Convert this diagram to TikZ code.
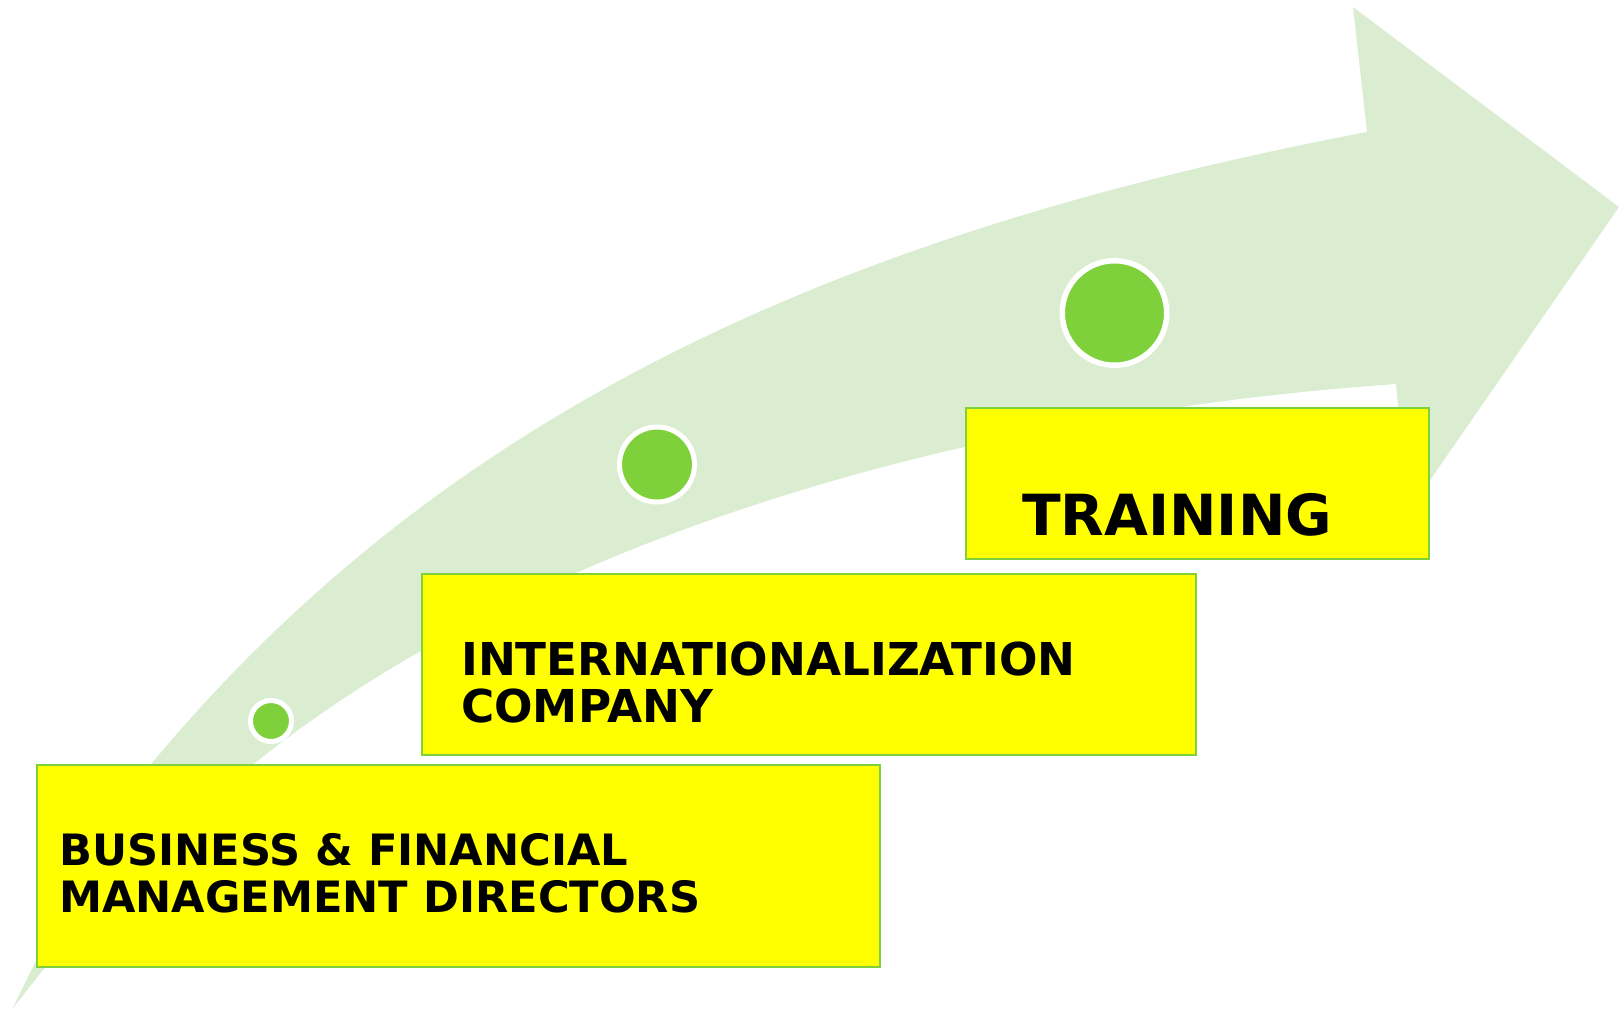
\documentclass[tikz,border=0pt]{standalone}
\usepackage{fontspec}
\newfontfamily\vfont{DejaVu Sans}
\definecolor{arrowgreen}{RGB}{218,237,209}
\definecolor{dotgreen}{RGB}{127,209,59}
\definecolor{boxyellow}{RGB}{255,255,0}
\begin{document}
\begin{tikzpicture}[x=1pt,y=-1pt,
  stagebox/.style={draw=dotgreen, line width=2pt, fill=boxyellow, inner sep=0pt, anchor=north west},
  dot/.style={circle, fill=dotgreen, draw=white, line width=5pt, inner sep=0pt},
  stagetext/.style={align=left, anchor=base west, inner sep=0pt, text=black}]
\useasboundingbox (0,0) rectangle (1620,1009);
\fill[arrowgreen] (13,1008) .. controls (33.7,962.5) and (113.6,809.1) .. (152,763)
  .. controls (440,417.4) and (826.9,234.9) .. (1367,132)
  -- (1353,7) -- (1619,207) -- (1408,512) -- (1396,384)
  .. controls (947.1,415.5) and (528,544.3) .. (255,763)
  -- (43,970) -- cycle;
\node[dot, minimum size=41pt] (c1) at (271,721) {};
\node[dot, minimum size=75pt] (c2) at (657,464.5) {};
\node[dot, line width=5.5pt, minimum size=104.5pt] (c3) at (1114.5,313) {};
\node[stagebox, minimum width=843pt, minimum height=202pt] (b1) at (36,764) {};
\node[stagebox, minimum width=773.5pt, minimum height=181pt] (b2) at (421,573) {};
\node[stagebox, minimum width=463pt, minimum height=151pt] (b3) at (965,407) {};
\node[stagetext, font=\vfont\bfseries\fontsize{43.2}{47}\selectfont] (t1) at (59,912) {BUSINESS \& FINANCIAL\\MANAGEMENT DIRECTORS};
\node[stagetext, font=\vfont\bfseries\fontsize{45.3}{47}\selectfont] (t2) at (461,722) {INTERNATIONALIZATION\\COMPANY};
\node[stagetext, font=\vfont\bfseries\fontsize{56.7}{60}\selectfont] (t3) at (1022,535) {TRAINING};
\end{tikzpicture}
\end{document}
